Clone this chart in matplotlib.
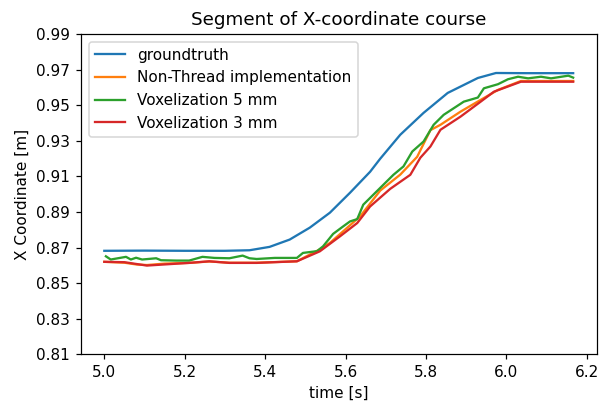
import matplotlib
matplotlib.use("Agg")
import matplotlib.pyplot as plt
import numpy as np

# values
t_gt = [5.0, 5.1, 5.2, 5.3, 5.361, 5.411, 5.461, 5.511, 5.561, 5.611, 5.661,
        5.686, 5.736, 5.794, 5.854, 5.929, 5.974, 6.05, 6.166]
x_gt = [0.8682, 0.8683, 0.8682, 0.8682, 0.8685, 0.8704, 0.8745, 0.8812, 0.8896,
        0.9008, 0.9126, 0.9199, 0.9334, 0.9457, 0.9569, 0.9653, 0.9681, 0.9680, 0.9680]

t_nt = [5.0, 5.05, 5.08, 5.106, 5.15, 5.211, 5.261, 5.311, 5.379, 5.479, 5.536,
        5.561, 5.636, 5.686, 5.736, 5.778, 5.811, 5.836, 5.886, 5.936, 5.979,
        6.036, 6.166]
x_nt = [0.8620, 0.8615, 0.8605, 0.8602, 0.8610, 0.8614, 0.8622, 0.8615, 0.8615,
        0.8623, 0.8690, 0.8726, 0.8875, 0.9020, 0.9110, 0.9210, 0.9360, 0.9390,
        0.9464, 0.9530, 0.9586, 0.9636, 0.9636]

t_v5 = [5.004, 5.016, 5.054, 5.066, 5.079, 5.094, 5.129, 5.141, 5.179, 5.211,
        5.244, 5.274, 5.311, 5.344, 5.361, 5.379, 5.424, 5.479, 5.494, 5.529,
        5.544, 5.569, 5.594, 5.611, 5.629, 5.644, 5.669, 5.694, 5.719, 5.744,
        5.766, 5.794, 5.819, 5.844, 5.869, 5.894, 5.929, 5.944, 5.979, 6.004,
        6.029, 6.054, 6.086, 6.111, 6.154, 6.166]
x_v5 = [0.8651, 0.8633, 0.8648, 0.8633, 0.8643, 0.8633, 0.8640, 0.8629, 0.8627,
        0.8627, 0.8648, 0.8642, 0.8640, 0.8655, 0.8640, 0.8636, 0.8642, 0.8642,
        0.8670, 0.8680, 0.8707, 0.8777, 0.8819, 0.8847, 0.8860, 0.8941, 0.8997,
        0.9053, 0.9109, 0.9156, 0.9240, 0.9296, 0.9390, 0.9446, 0.9483, 0.9520,
        0.9543, 0.9595, 0.9618, 0.9646, 0.9660, 0.9651, 0.9660, 0.9651, 0.9666,
        0.9655]

t_v3 = [5.0, 5.05, 5.106, 5.211, 5.261, 5.311, 5.379, 5.479, 5.536, 5.586,
        5.629, 5.661, 5.711, 5.761, 5.786, 5.811, 5.836, 5.886, 5.936, 5.969,
        6.036, 6.166]
x_v3 = [0.8620, 0.8618, 0.8599, 0.8614, 0.8623, 0.8614, 0.8614, 0.8623, 0.8679,
        0.8763, 0.8838, 0.8931, 0.9030, 0.9109, 0.9205, 0.9268, 0.9362, 0.9436,
        0.9520, 0.9576, 0.9632, 0.9632]

fig, ax = plt.subplots(figsize=(599 / 110, 405 / 110), dpi=110)
fig.subplots_adjust(left=0.135, right=0.996, top=0.916, bottom=0.125)

ax.plot(t_gt, x_gt, label="groundtruth")
ax.plot(t_nt, x_nt, label="Non-Thread implementation")
ax.plot(t_v5, x_v5, label="Voxelization 5 mm")
ax.plot(t_v3, x_v3, label="Voxelization 3 mm")

ax.set_ylim(0.81, 0.99)
ax.set_yticks(np.arange(0.81, 0.9901, 0.02))
ax.set_title("Segment of X-coordinate course")
ax.set_xlabel("time [s]")
ax.set_ylabel("X Coordinate [m]")
ax.legend(loc="upper left")

fig.savefig("out.png", dpi=110)
